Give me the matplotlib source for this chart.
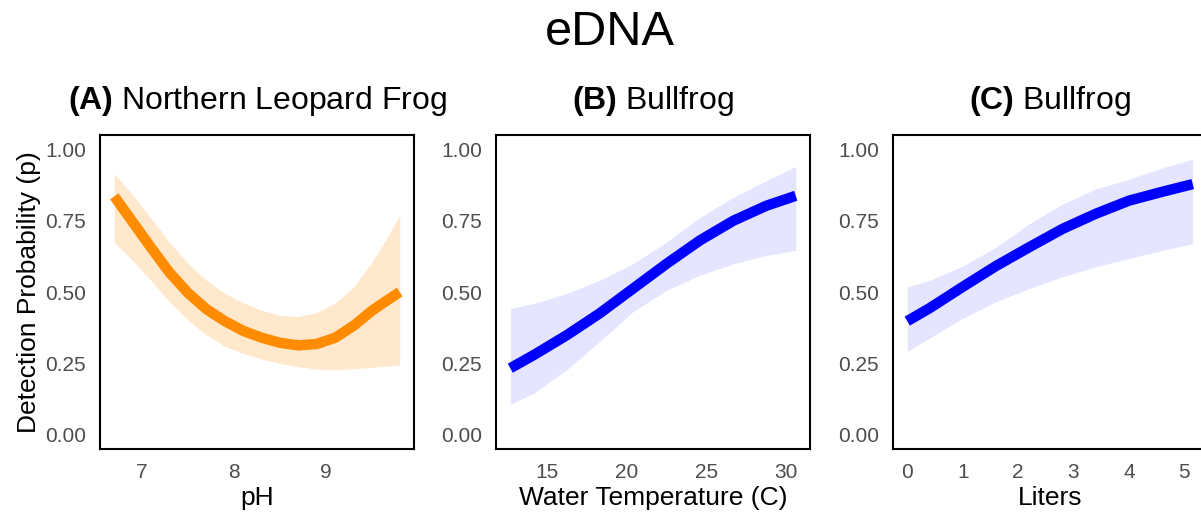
import matplotlib
matplotlib.use("Agg")
import matplotlib.pyplot as plt

plt.rcParams["font.family"] = ["Liberation Sans", "DejaVu Sans"]
plt.rcParams["mathtext.fontset"] = "custom"
plt.rcParams["mathtext.rm"] = "Liberation Sans"
plt.rcParams["mathtext.bf"] = "Liberation Sans:bold"

# (A) Northern Leopard Frog vs pH
ph = [6.7, 6.9, 7.1, 7.3, 7.5, 7.7, 7.9, 8.1, 8.3, 8.5, 8.7, 8.9, 9.1, 9.3, 9.5, 9.65, 9.8]
ph_p = [0.835, 0.745, 0.655, 0.568, 0.497, 0.44, 0.398, 0.364, 0.34, 0.322, 0.313, 0.318,
        0.34, 0.382, 0.435, 0.468, 0.50]
ph_hi = [0.915, 0.84, 0.758, 0.674, 0.60, 0.541, 0.495, 0.462, 0.436, 0.418, 0.414, 0.428,
         0.462, 0.517, 0.605, 0.683, 0.77]
ph_lo = [0.675, 0.61, 0.54, 0.465, 0.402, 0.35, 0.31, 0.285, 0.265, 0.25, 0.238, 0.23,
         0.228, 0.231, 0.236, 0.24, 0.245]

# (B) Bullfrog vs water temperature
temp = [12.7, 14.2, 16.25, 18.3, 20.4, 22.5, 24.6, 26.7, 28.75, 30.6]
temp_p = [0.233, 0.28, 0.349, 0.425, 0.512, 0.599, 0.681, 0.75, 0.802, 0.837]
temp_hi = [0.442, 0.46, 0.495, 0.541, 0.599, 0.675, 0.762, 0.832, 0.89, 0.94]
temp_lo = [0.106, 0.146, 0.228, 0.326, 0.431, 0.506, 0.559, 0.599, 0.628, 0.646]

# (C) Bullfrog vs liters filtered
liters = [0, 0.4, 1.0, 1.6, 2.2, 2.8, 3.4, 4.0, 4.6, 5.15]
lit_p = [0.398, 0.443, 0.518, 0.591, 0.657, 0.721, 0.774, 0.82, 0.851, 0.878]
lit_hi = [0.518, 0.541, 0.591, 0.657, 0.739, 0.808, 0.861, 0.895, 0.935, 0.965]
lit_lo = [0.292, 0.338, 0.408, 0.466, 0.512, 0.553, 0.588, 0.617, 0.646, 0.669]

panels = [
    ("(A)", "Northern Leopard Frog", "pH", ph, ph_p, ph_lo, ph_hi, [7, 8, 9], "darkorange", 0.2),
    ("(B)", "Bullfrog", "Water Temperature (C)", temp, temp_p, temp_lo, temp_hi, [15, 20, 25, 30], "blue", 0.1),
    ("(C)", "Bullfrog", "Liters", liters, lit_p, lit_lo, lit_hi, [0, 1, 2, 3, 4, 5], "blue", 0.1),
]

W, H = 1201, 517
fig = plt.figure(figsize=(W / 100, H / 100), dpi=100)

lefts = [100, 496, 893]
for left, (tag, name, xlab, x, p, lo, hi, xt, col, alpha) in zip(lefts, panels):
    ax = fig.add_axes([left / W, (H - 449) / H, 314 / W, 314 / H])
    ax.fill_between(x, lo, hi, color=col, alpha=alpha, linewidth=0)
    ax.plot(x, p, color=col, linewidth=7.5, solid_capstyle="butt", solid_joinstyle="round")

    # 5% padding on each side, like ggplot's default expansion
    span = x[-1] - x[0]
    ax.set_xlim(x[0] - 0.05 * span, x[-1] + 0.05 * span)
    ax.set_ylim(-0.05, 1.05)
    ax.set_xticks(xt)
    ax.set_yticks([0, 0.25, 0.5, 0.75, 1.0])
    ax.set_yticklabels(["0.00", "0.25", "0.50", "0.75", "1.00"])
    ax.tick_params(length=0, pad=10, labelsize=15, labelcolor="#4d4d4d")
    for s in ax.spines.values():
        s.set_linewidth(1.5)
        s.set_color("black")
    ax.set_xlabel(xlab, fontsize=19, labelpad=3)
    ax.set_title(r"$\mathbf{" + tag + "}$ " + name, fontsize=23, pad=18.5)
    if left == 100:
        ax.set_ylabel("Detection Probability (p)", fontsize=19, labelpad=3)

fig.text(610 / W, (H - 45) / H, "eDNA", fontsize=35, ha="center", va="baseline")

fig.savefig("out.png", dpi=100)
